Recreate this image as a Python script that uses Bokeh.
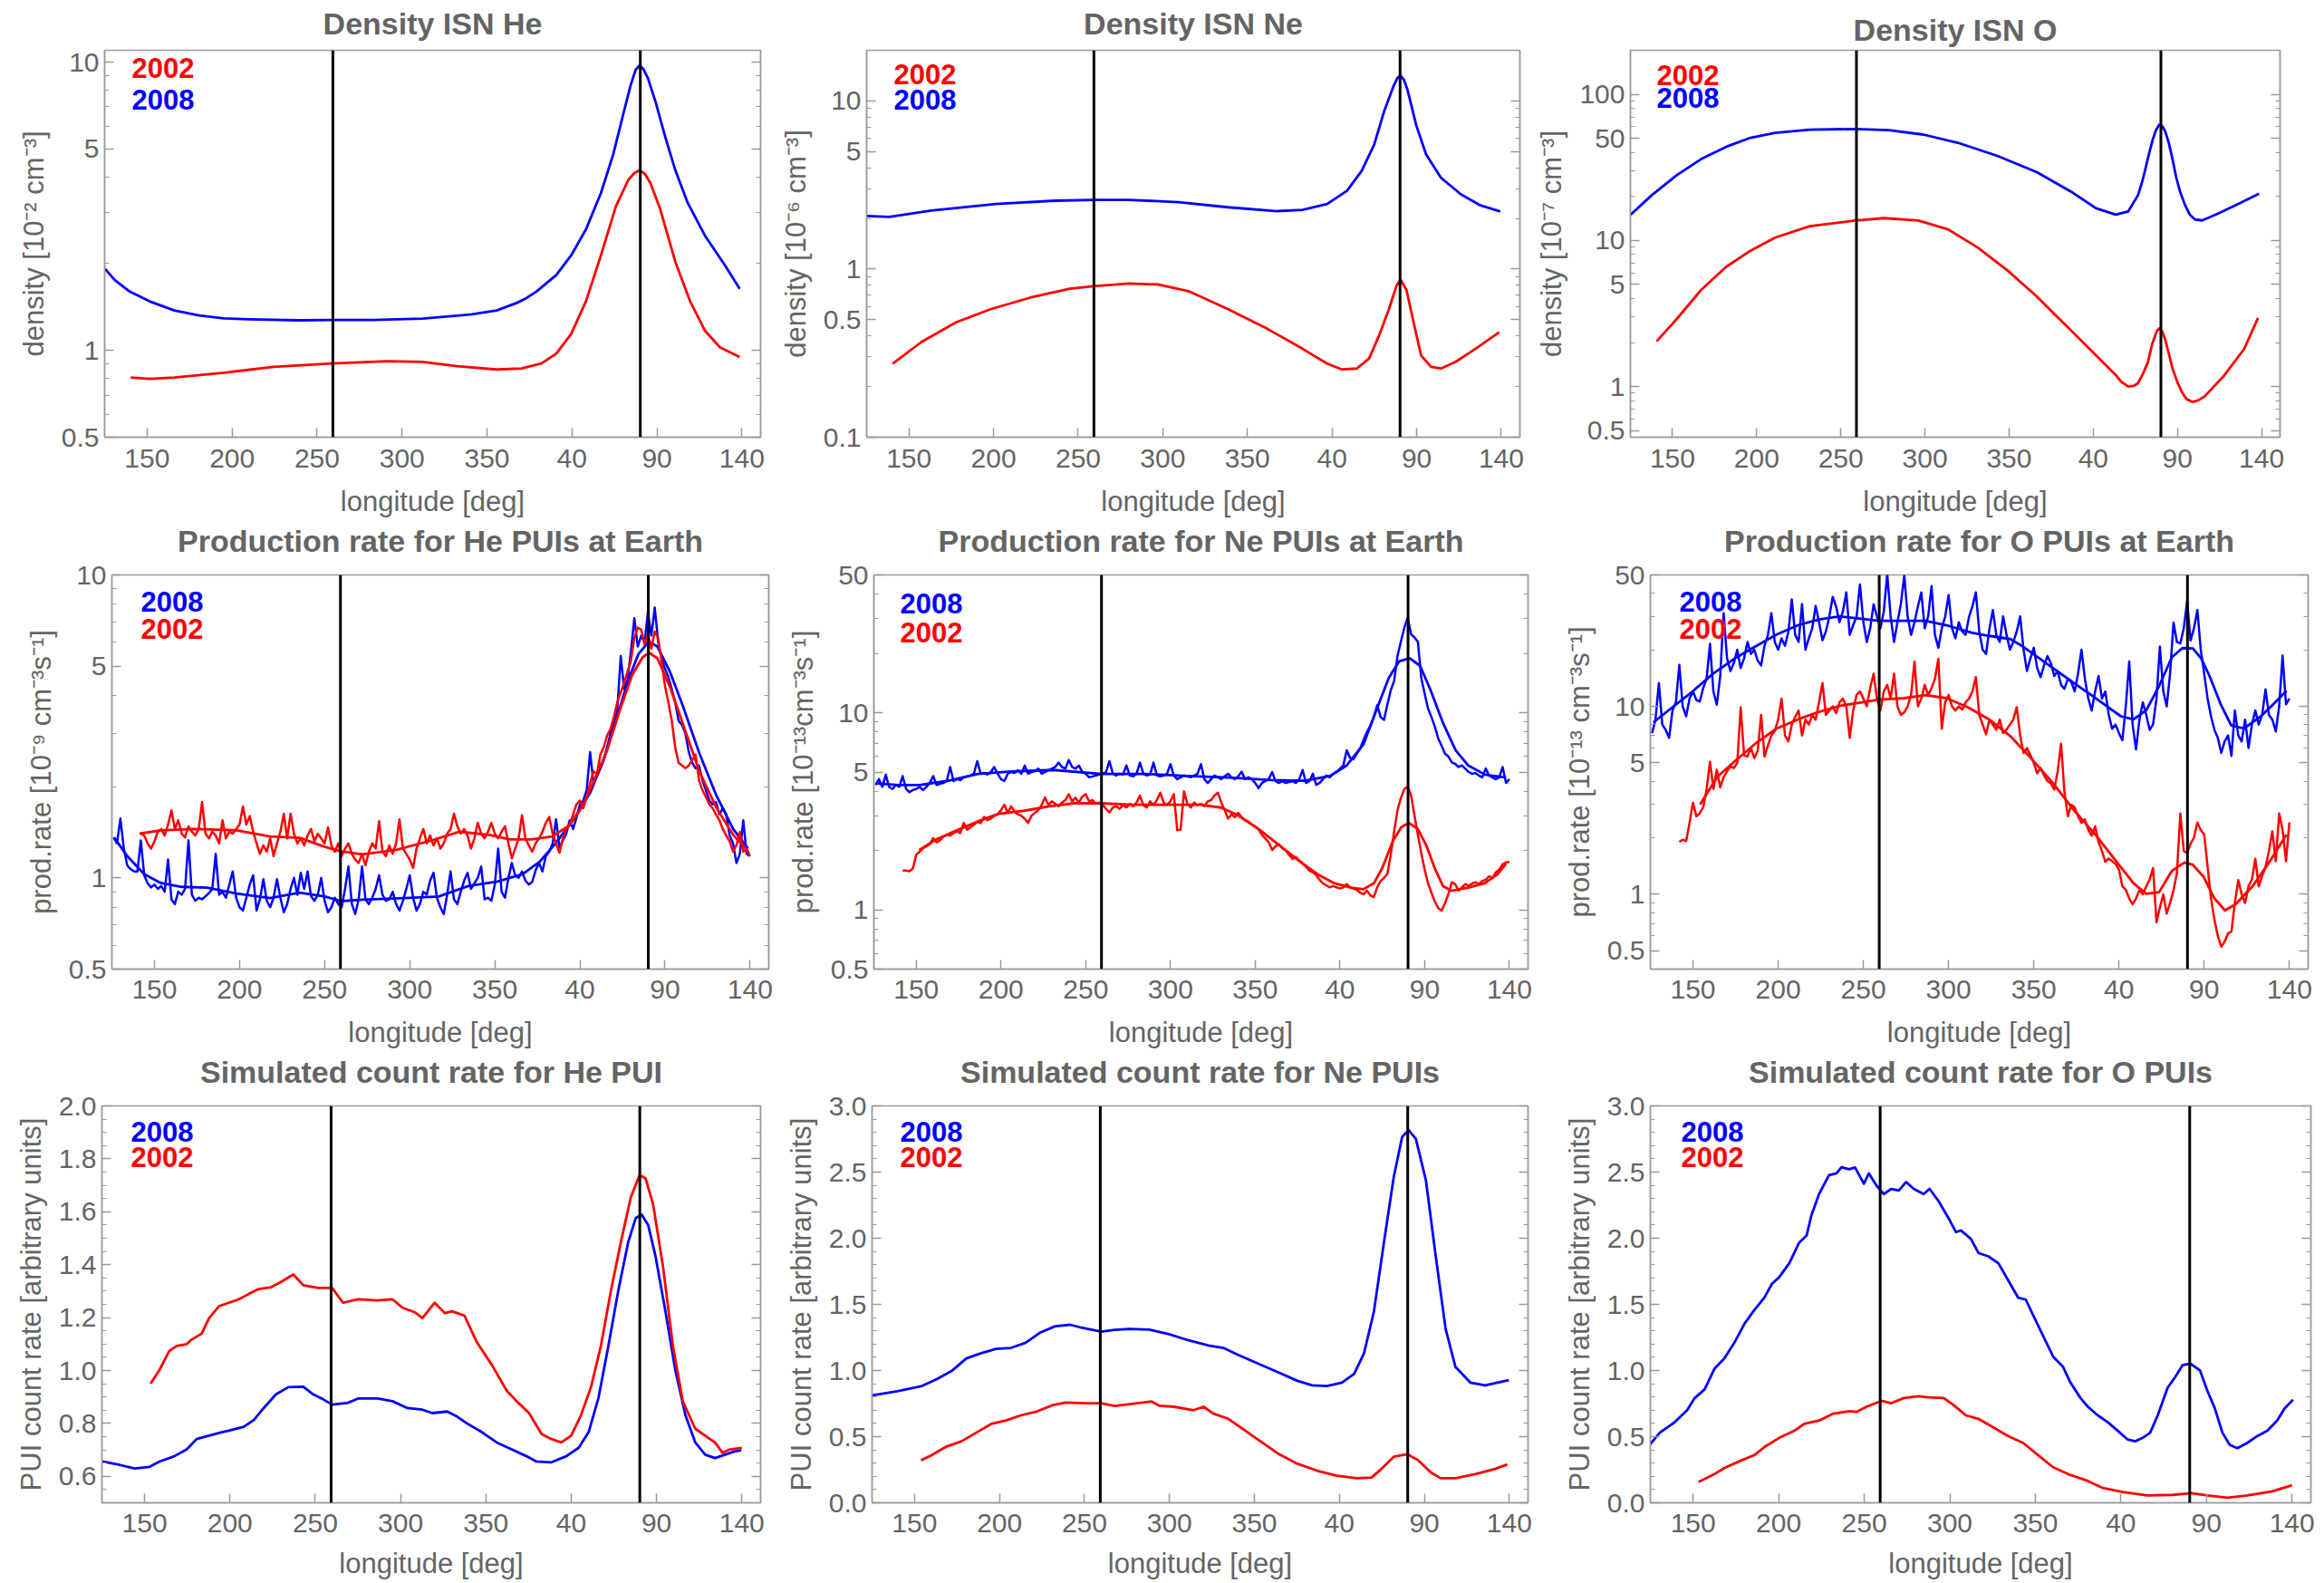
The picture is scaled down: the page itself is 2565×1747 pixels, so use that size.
import numpy as np
from bokeh.plotting import figure
from bokeh.layouts import row, column
from bokeh.models import (Range1d, FixedTicker, SingleIntervalTicker, LinearAxis, LogAxis,
                          CustomJSTickFormatter, Span, Label, Title)
from bokeh.embed import file_html
from bokeh.resources import INLINE

FONT = "Liberation Sans"
TXT = "#646464"
FRAME = "#9a9a9a"
RED = "#ff0000"
BLUE = "#0000ff"

LON_TICKS = [150, 200, 250, 300, 350, 400, 450, 500]
X_RANGE = (125, 511)
VLINES = [259.3, 440.2]
STEP = 2

# ---------------- ISN density ----------------
HE_DENS_X_08 = [125.2,131.0,139.8,151.5,166.0,180.6,195.2,209.8,239.0,258.8,282.8,312.0,341.0,355.7,367.4,373.2,379.0,390.7,399.5,408.2,417.0,424.3,430.1,434.5,437.4,439.8,442.1,444.7,449.1,455.0,460.8,468.1,478.3,490.0,498.7]
HE_DENS_08 = [1.92,1.755,1.60,1.48,1.376,1.323,1.292,1.282,1.272,1.275,1.275,1.289,1.334,1.376,1.461,1.52,1.60,1.825,2.135,2.63,3.51,4.8,6.58,8.32,9.4,9.75,9.45,8.8,7.31,5.48,4.22,3.25,2.50,1.975,1.635]
HE_DENS_X_02 = [140.4,151.5,166.0,195.2,224.4,258.8,291.5,312.0,332.4,355.7,370.3,382.0,390.7,399.5,408.2,417.0,425.8,433.1,436.6,439.8,442.9,446.2,452.0,460.8,469.5,478.3,487.0,498.7]
HE_DENS_02 = [0.805,0.797,0.805,0.837,0.877,0.901,0.917,0.912,0.882,0.859,0.866,0.901,0.974,1.14,1.48,2.135,3.16,3.9,4.12,4.22,4.1,3.8,3.08,2.03,1.48,1.17,1.026,0.949]

NE_DENS_X_08 = [125.1,138.3,163.2,201.2,236.3,259.1,280.1,309.4,338.6,367.8,382.5,397.1,408.8,417.5,424.9,430.7,436.5,438.5,440.4,442.4,444.4,447.0,449.7,455.6,464.3,476.0,487.7,499.4]
NE_DENS_08 = [2.066,2.04,2.23,2.44,2.55,2.58,2.58,2.50,2.33,2.21,2.25,2.44,2.92,3.83,5.49,8.62,12.36,13.6,14.2,13.4,11.8,9.3,7.2,4.8,3.5,2.79,2.39,2.2]
NE_DENS_X_02 = [140.4,157.3,177.8,198.2,221.6,245.0,259.1,280.1,297.7,315.2,338.6,362.0,382.5,397.1,405.8,414.6,421.9,427.8,433.6,438.0,440.4,443.9,448.2,452.6,458.5,464.3,473.1,484.8,498.8]
NE_DENS_02 = [0.274,0.368,0.482,0.577,0.676,0.763,0.791,0.820,0.809,0.739,0.577,0.44,0.336,0.274,0.253,0.256,0.294,0.402,0.577,0.791,0.866,0.756,0.482,0.307,0.262,0.256,0.281,0.336,0.421]

O_DENS_X_08 = [125.1,137.7,152.3,167.0,181.7,196.3,211.0,231.5,258.8,278.5,299.0,319.5,343.0,366.5,387.0,401.7,413.4,420.8,426.6,429.0,431.0,433.2,435.4,437.3,439.2,441.0,442.7,444.9,447.1,449.3,451.6,454.5,457.4,460.5,464.8,475.0,486.8,498.5]
O_DENS_08 = [15.0,20.4,27.8,36.0,43.6,50.4,54.4,57.3,57.9,56.8,53.0,46.6,37.9,29.3,21.5,16.6,15.0,15.8,20.4,25.0,30.9,39.5,49.1,57.0,61.9,60.5,55.9,46.5,36.0,27.0,21.5,17.5,15.0,13.9,13.7,15.4,17.9,20.9]
O_DENS_X_02 = [140.6,152.3,167.0,181.7,196.3,211.0,231.5,258.8,275.6,296.1,313.7,331.3,349.0,366.5,384.1,401.7,413.4,416.5,420.8,424.0,426.6,429.5,432.5,435.0,437.8,439.2,440.8,442.7,444.5,447.1,450.0,453.0,455.5,458.9,462.0,466.2,478.0,489.7,497.9]
O_DENS_02 = [2.04,2.88,4.58,6.57,8.5,10.45,12.5,13.66,14.2,13.66,11.9,8.95,6.24,4.13,2.60,1.63,1.198,1.08,1.0,1.01,1.053,1.22,1.47,1.95,2.4,2.50,2.4,2.11,1.75,1.33,1.07,0.902,0.82,0.785,0.80,0.857,1.198,1.81,2.95]

# ---------------- production rates (noisy, 2-deg grid) ----------------
HE_PROD_START_08 = 126
HE_PROD_08 = [1.36,1.30,1.57,1.25,1.10,1.07,1.05,1.05,1.33,1.02,0.96,0.93,0.95,
    0.92,0.94,0.90,1.15,0.85,0.82,0.90,0.88,0.92,1.33,0.88,0.84,0.86,0.85,0.87,0.89,0.92,1.20,0.88,0.90,0.86,0.95,1.05,0.86,0.80,
    0.78,0.86,0.95,1.02,0.78,0.85,0.99,0.84,0.80,0.86,0.99,0.86,0.77,0.82,0.92,1.00,0.88,1.04,0.92,1.05,0.87,0.84,0.88,1.00,0.84,0.77,0.80,0.86,0.82,0.80,
    0.92,1.09,0.82,0.76,0.85,1.09,0.85,0.82,0.86,0.92,1.02,0.88,0.84,0.85,0.90,0.82,0.78,0.84,0.92,1.02,0.86,0.78,0.82,0.90,0.88,0.98,1.04,0.86,0.80,0.76,0.88,1.05,0.85,0.82,0.90,
    0.98,1.04,0.92,0.96,1.00,1.09,0.85,0.86,0.84,0.95,1.25,0.90,0.86,1.00,1.12,1.02,1.00,1.05,0.98,0.95,0.97,1.06,1.12,1.05,1.18,
    1.22,1.30,1.56,1.26,1.33,1.40,1.55,1.45,1.58,1.75,1.80,1.95,2.60,2.05,2.20,2.35,2.45,2.70,3.00,3.30,3.60,5.40,4.20,4.50,5.60,7.20,5.80,6.30,6.00,7.55,
    6.30,7.80,6.00,5.30,4.90,4.60,4.20,3.80,3.30,3.20,3.00,2.60,2.40,2.30,2.35,2.10,1.95,1.80,1.75,1.78,1.62,1.70,1.62,1.38,1.30,1.12,1.20,1.55,1.20,1.18]
HE_PROD_START_02 = 142
HE_PROD_02 = [1.40,1.38,1.30,1.25,1.32,1.42,1.45,1.38,1.50,1.67,1.45,1.55,1.40,1.36,1.48,1.42,1.38,1.45,1.78,1.40,1.35,1.42,1.38,1.30,1.55,1.35,1.42,1.40,1.45,1.50,
    1.72,1.50,1.60,1.42,1.30,1.20,1.28,1.22,1.35,1.18,1.30,1.42,1.63,1.35,1.63,1.40,1.30,1.35,1.28,1.38,1.45,1.32,1.40,1.35,1.30,1.47,1.28,1.22,1.30,1.18,
    1.25,1.30,1.20,1.15,1.12,1.20,1.10,1.22,1.30,1.25,1.54,1.22,1.18,1.28,1.20,1.30,1.56,1.25,1.20,1.15,1.08,1.25,1.35,1.45,1.30,1.38,1.28,1.35,1.25,1.30,
    1.40,1.45,1.63,1.48,1.40,1.45,1.38,1.25,1.35,1.52,1.40,1.35,1.42,1.52,1.40,1.35,1.42,1.48,1.30,1.16,1.25,1.35,1.61,1.35,1.28,1.22,1.30,1.35,1.42,1.52,
    1.59,1.40,1.30,1.21,1.35,1.45,1.50,1.62,1.75,1.80,1.70,1.85,2.05,2.25,2.20,2.55,2.70,2.95,3.10,3.40,3.80,4.10,4.40,4.80,5.20,6.20,6.70,6.60,5.90,6.40,
    5.70,6.50,6.20,5.20,4.30,3.80,3.30,2.70,2.40,2.35,2.30,2.35,2.45,2.55,2.10,1.95,1.85,1.75,1.70,1.62,1.55,1.45,1.38,1.32,1.22,1.28,1.42,1.22,1.25,1.18]
HE_PROD_SX_08 = [126.5,133.9,143.8,153.7,166.1,180.9,198.2,218.0,235.3,250.2,259.6,272.4,297.2,317.0,334.3,351.6,366.4,376.3,386.2,396.1,406.0,413.4,420.8,428.2,434.4,440.6,445.6,453.0,460.4,470.3,480.2,490.1,498.7]
HE_PROD_S08 = [1.356,1.182,1.03,0.962,0.934,0.929,0.888,0.858,0.894,0.868,0.838,0.848,0.858,0.868,0.940,0.973,1.030,1.129,1.31,1.556,1.91,2.40,3.24,4.46,5.48,6.03,5.80,4.78,3.71,2.57,1.87,1.45,1.25]
HE_PROD_SX_02 = [141.3,153.7,173.5,198.2,218.0,235.3,250.2,259.6,272.4,292.2,312.0,329.3,346.6,359.0,371.4,383.7,393.6,401.0,408.5,415.9,423.3,430.7,436.9,440.6,445.6,453.0,460.4,470.3,480.2,490.1,497.5]
HE_PROD_S02 = [1.40,1.436,1.45,1.436,1.371,1.356,1.266,1.223,1.195,1.237,1.325,1.42,1.387,1.34,1.34,1.371,1.486,1.705,2.095,2.63,3.55,4.67,5.35,5.54,5.30,4.26,3.24,2.24,1.705,1.387,1.25]

NE_PROD_START_08 = 126
NE_PROD_08 = [4.30,4.60,4.20,4.85,4.20,4.10,4.30,4.20,4.77,4.10,3.95,4.05,4.10,
    4.20,4.05,4.20,4.40,4.77,4.30,4.35,4.40,4.50,5.30,4.50,4.60,4.55,4.70,4.75,4.80,4.90,5.68,4.90,4.95,4.85,5.00,5.30,4.90,4.60,
    4.50,4.90,5.00,4.95,5.10,4.90,5.39,4.90,5.00,5.05,5.20,4.90,5.00,5.10,5.20,5.30,5.58,5.30,5.20,5.75,5.30,5.20,5.39,5.00,4.90,4.70,4.75,4.80,4.85,4.90,
    5.00,5.68,4.90,4.80,4.90,4.85,5.40,4.80,4.75,4.90,5.58,4.90,4.80,4.85,5.58,4.80,4.75,4.80,4.90,5.49,4.80,4.60,4.70,4.80,4.75,4.70,4.80,4.90,5.49,4.60,4.40,4.60,4.80,4.70,4.60,
    4.75,4.90,4.70,4.60,4.75,5.02,4.60,4.70,4.60,4.40,4.14,4.40,4.50,4.60,5.00,4.50,4.40,4.50,4.40,4.45,4.50,4.40,4.60,5.12,4.40,
    4.50,4.90,4.30,4.40,4.60,4.80,4.70,4.90,5.00,5.20,5.40,6.44,5.90,5.80,6.20,6.60,7.30,8.00,8.60,9.50,10.9,9.50,9.20,11.0,13.0,14.5,19.5,23.0,27.0,30.3,
    25.0,24.1,22.9,15.0,12.5,10.5,9.50,8.50,7.40,6.80,6.20,6.00,5.60,5.50,5.30,5.40,5.20,5.00,4.90,4.94,4.80,4.70,5.21,4.80,4.69,4.60,4.70,5.30,4.40,4.60]
NE_PROD_START_02 = 142
NE_PROD_02 = [1.58,1.58,1.57,1.62,1.90,1.97,2.05,2.10,2.15,2.31,2.20,2.25,2.35,2.40,2.38,2.45,2.50,2.45,2.76,2.55,2.62,2.70,2.80,2.75,2.96,2.85,2.90,3.00,3.05,3.20,
    3.41,3.10,3.35,3.15,3.05,3.00,2.90,2.76,3.00,3.10,3.20,3.40,3.72,3.40,3.55,3.45,3.35,3.50,3.60,3.86,3.55,3.70,3.50,3.75,3.86,3.55,3.60,3.45,3.50,3.40,
    3.25,3.12,3.30,3.35,3.25,3.40,3.30,3.45,3.35,3.50,3.79,3.40,3.30,3.55,3.40,3.60,3.93,3.50,3.40,3.55,3.86,2.53,2.55,3.99,3.45,3.30,3.50,3.40,3.45,3.35,
    3.55,3.60,3.80,3.93,3.50,3.20,2.90,3.05,2.95,3.10,2.95,2.85,2.80,2.70,2.65,2.55,2.40,2.30,2.20,2.01,2.10,2.15,2.05,2.00,1.90,1.81,1.85,1.78,1.72,1.65,
    1.58,1.55,1.50,1.42,1.36,1.33,1.30,1.32,1.30,1.28,1.30,1.35,1.30,1.28,1.26,1.22,1.20,1.25,1.18,1.16,1.30,1.40,1.45,1.52,1.90,2.50,3.20,3.70,4.10,4.22,
    3.80,3.00,2.40,1.94,1.60,1.36,1.22,1.10,1.02,0.99,1.08,1.20,1.38,1.35,1.25,1.30,1.35,1.32,1.36,1.38,1.35,1.40,1.42,1.48,1.45,1.55,1.60,1.70,1.74,1.75]
NE_PROD_SX_08 = [127.0,139.4,151.7,169.0,186.4,206.1,230.9,259.3,285.3,310.0,334.8,359.5,379.3,394.1,404.0,413.9,421.3,428.8,434.9,441.1,447.3,453.5,460.9,468.3,475.7,485.6,498.0]
NE_PROD_S08 = [4.37,4.29,4.29,4.52,4.89,5.03,5.12,4.89,4.89,4.77,4.69,4.55,4.52,4.77,5.40,6.91,10.2,15.0,18.2,18.9,17.3,13.0,8.84,6.44,5.40,4.85,4.69]
NE_PROD_SX_02 = [151.7,161.6,174.0,186.4,198.7,213.6,228.4,243.2,259.3,277.9,297.7,317.4,329.8,339.7,352.0,364.4,376.8,386.7,396.6,406.5,413.9,420.1,425.0,431.2,436.2,440.6,446.0,451.0,455.9,460.9,465.8,475.7,485.6,493.1,498.0]
NE_PROD_S02 = [2.01,2.27,2.53,2.81,3.07,3.18,3.35,3.47,3.47,3.41,3.41,3.41,3.30,3.02,2.57,2.12,1.746,1.516,1.364,1.294,1.271,1.364,1.627,2.23,2.62,2.76,2.57,2.12,1.627,1.316,1.249,1.294,1.364,1.516,1.715]

O_PROD_START_08 = 126
O_PROD_08 = [7.2,8.5,13.3,8.0,7.5,6.8,9.5,10.5,16.6,10.0,8.85,11.0,12.0,
    10.8,10.6,12.5,14.0,21.5,12.0,10.2,14.5,31.3,18.0,15.4,17.0,20.0,16.0,18.0,22.0,19.0,20.0,17.5,16.5,21.0,24.0,31.3,22.0,20.0,
    23.0,21.0,25.0,37.0,24.0,22.0,35.0,20.0,23.0,26.0,34.2,28.0,22.5,25.0,30.0,38.2,34.0,28.0,32.0,40.4,24.0,27.0,30.0,44.5,28.0,22.0,26.0,34.9,30.0,26.0,
    32.0,50.7,30.0,22.0,28.0,35.0,49.8,30.0,24.0,28.0,34.0,40.4,26.0,30.0,43.6,24.0,20.5,26.0,30.0,39.1,26.0,23.0,28.0,25.0,24.0,30.0,34.0,40.4,25.0,20.0,19.0,26.0,32.5,24.0,22.0,
    30.1,24.0,20.0,22.0,25.0,30.1,20.0,15.4,18.0,20.5,16.0,14.3,16.5,18.5,17.0,14.5,15.4,13.0,12.4,14.0,13.5,12.0,15.0,20.0,14.0,
    11.0,9.5,12.0,14.5,11.0,12.0,9.0,7.6,8.0,7.2,6.6,10.0,17.3,8.0,5.9,8.5,10.5,9.0,7.5,8.0,11.0,20.8,12.0,10.0,15.0,27.9,22.0,21.6,26.0,36.3,
    22.4,26.0,32.5,20.0,14.9,11.0,8.85,7.5,6.8,5.65,6.5,7.0,5.45,9.5,7.0,6.5,8.5,6.0,8.0,9.5,8.0,9.0,12.3,9.0,8.5,7.35,10.0,18.6,10.25,11.0]
O_PROD_START_02 = 142
O_PROD_02 = [1.90,1.95,1.92,2.40,3.07,2.60,2.70,2.90,3.60,5.07,3.63,4.60,3.70,4.20,4.50,4.80,4.70,5.00,9.89,5.50,5.40,6.00,5.30,5.80,9.00,5.40,6.20,7.00,7.40,8.50,
    11.0,7.00,6.50,8.00,8.80,9.50,7.00,8.50,8.00,9.00,8.50,10.5,13.3,9.00,9.50,10.0,9.20,10.5,11.0,10.0,6.80,9.50,11.5,12.0,11.0,10.0,12.5,14.9,11.0,9.50,
    12.0,13.0,11.0,14.9,10.0,9.00,9.30,10.0,11.5,17.3,10.0,11.0,13.0,11.5,12.5,14.0,17.9,7.60,10.5,11.5,10.0,9.50,10.0,9.60,10.5,11.0,12.0,14.3,9.00,8.00,
    7.10,8.50,8.00,7.50,8.50,7.20,7.50,8.00,8.50,9.90,7.00,5.65,6.00,5.50,5.00,4.40,4.70,4.30,4.00,3.90,3.60,4.50,6.33,3.50,2.60,3.00,2.90,2.60,2.40,2.50,
    2.20,2.05,2.30,1.90,1.70,1.49,1.55,1.50,1.45,1.35,1.10,1.06,0.95,0.885,0.95,1.05,1.00,1.10,1.20,1.38,0.71,0.85,1.00,0.79,0.90,1.05,1.30,2.69,1.70,1.66,
    1.86,2.00,2.41,2.20,2.08,1.40,0.95,0.735,0.60,0.526,0.56,0.62,0.633,0.90,1.19,1.00,0.90,1.10,1.20,1.545,1.10,1.25,1.40,1.70,2.16,1.50,2.69,2.20,1.50,2.41]
O_PROD_SX_08 = [126.8,136.8,149.3,161.7,174.2,186.6,199.1,211.6,224.0,236.5,259.2,273.9,286.4,298.8,313.8,323.8,336.2,343.7,353.7,363.7,373.6,383.6,393.6,401.1,408.5,416.0,423.5,431.0,437.2,443.4,448.4,453.4,459.6,465.9,473.4,483.3,490.8,498.3]
O_PROD_S08 = [8.21,9.7,11.9,14.9,17.9,20.8,24.1,27.0,29.0,30.1,28.5,28.5,28.5,27.0,24.6,23.7,22.8,20.8,17.9,15.4,13.3,11.5,9.9,8.85,8.53,9.53,12.8,18.2,20.4,20.3,17.9,14.3,10.3,7.91,7.62,8.85,10.3,12.1]
O_PROD_SX_02 = [154.2,164.2,174.2,186.6,199.1,211.6,224.0,236.5,259.2,273.9,286.4,298.8,311.3,323.8,336.2,348.7,361.2,373.6,386.1,398.6,408.5,416.0,423.5,431.0,438.4,443.4,449.7,455.9,462.2,468.4,478.4,488.3,498.3]
O_PROD_S02 = [3.01,4.21,5.07,6.33,7.62,8.52,9.35,10.07,10.85,11.05,11.47,11.05,9.89,8.52,6.95,5.26,3.91,2.80,2.08,1.488,1.147,1.007,1.026,1.331,1.476,1.434,1.236,0.953,0.821,0.885,1.105,1.488,2.08]

# ---------------- simulated count rates ----------------
HE_CNT_X_08 = [125.3,135.5,144.2,152.9,158.7,167.4,174.7,180.5,187.8,195.1,199.4,208.1,214.0,219.8,227.0,234.3,243.0,248.8,254.7,259.9,269.2,275.0,286.6,295.3,304.0,312.8,318.6,327.3,333.1,338.9,347.7,356.4,365.1,373.8,379.7,388.4,397.1,404.4,410.2,416.0,421.8,427.6,433.4,437.8,441.3,445.1,449.4,455.2,461.0,466.9,472.7,478.5,484.3,490.1,496.0,499.7]
HE_CNT_08 = [0.656,0.643,0.630,0.636,0.656,0.676,0.702,0.741,0.754,0.767,0.773,0.787,0.813,0.858,0.910,0.937,0.939,0.910,0.891,0.871,0.878,0.894,0.894,0.884,0.858,0.852,0.839,0.845,0.826,0.800,0.767,0.728,0.702,0.676,0.656,0.653,0.676,0.708,0.767,0.897,1.093,1.302,1.485,1.576,1.589,1.550,1.432,1.224,1.002,0.832,0.728,0.682,0.669,0.682,0.695,0.698]
HE_CNT_X_02 = [153.5,158.7,164.5,168.9,174.7,177.6,183.4,187.8,193.6,199.4,205.2,211.0,216.9,224.1,229.9,237.2,243.0,251.7,259.9,266.3,275.0,286.6,295.3,301.2,308.4,312.8,320.0,325.9,330.2,337.5,344.8,353.5,362.2,368.0,375.3,382.6,388.4,394.2,400.0,405.8,411.6,417.4,423.3,429.1,434.9,440.1,443.6,448.0,453.8,459.6,465.4,472.7,480.0,484.3,488.7,493.0,500.0]
HE_CNT_02 = [0.950,1.002,1.074,1.093,1.100,1.117,1.139,1.198,1.243,1.256,1.269,1.289,1.308,1.315,1.335,1.363,1.322,1.312,1.312,1.256,1.269,1.265,1.269,1.237,1.220,1.198,1.256,1.217,1.224,1.207,1.106,1.021,0.924,0.884,0.839,0.760,0.741,0.728,0.754,0.832,0.937,1.093,1.302,1.485,1.654,1.739,1.726,1.628,1.393,1.093,0.884,0.780,0.747,0.728,0.689,0.702,0.708]

NE_CNT_X_08 = [125.3,139.8,154.4,163.1,171.8,180.5,189.2,198.0,206.7,215.4,224.1,232.8,241.6,247.4,259.9,267.7,276.5,288.1,299.7,311.3,323.0,331.7,340.4,352.0,363.7,375.3,384.0,392.7,401.5,408.7,414.5,420.3,426.2,432.0,436.9,440.7,445.0,450.9,456.7,462.5,468.3,477.0,485.8,493.0,499.7]
NE_CNT_08 = [0.813,0.844,0.883,0.935,0.996,1.092,1.131,1.163,1.171,1.210,1.288,1.335,1.346,1.327,1.293,1.307,1.314,1.309,1.275,1.228,1.189,1.171,1.118,1.053,0.988,0.922,0.888,0.883,0.909,0.975,1.131,1.445,1.968,2.464,2.765,2.817,2.751,2.438,1.863,1.314,1.027,0.909,0.888,0.909,0.928]
NE_CNT_X_02 = [153.8,160.2,168.9,177.6,186.3,195.1,203.8,212.5,221.2,231.4,238.7,250.3,259.9,267.7,276.5,289.5,293.9,302.6,314.2,320.1,325.9,334.6,343.3,352.0,363.7,375.3,386.9,398.5,410.2,418.9,424.7,432.0,439.8,446.5,453.8,459.6,468.3,479.9,491.6,498.8]
NE_CNT_02 = [0.321,0.361,0.426,0.465,0.530,0.596,0.622,0.661,0.687,0.739,0.758,0.753,0.753,0.732,0.745,0.766,0.734,0.726,0.700,0.726,0.674,0.635,0.557,0.478,0.374,0.295,0.243,0.204,0.186,0.191,0.256,0.348,0.368,0.321,0.230,0.186,0.186,0.217,0.256,0.290]

O_CNT_X_08 = [124.7,130.5,139.2,146.5,150.9,156.7,162.5,168.3,174.1,180.0,185.8,191.6,196.0,200.3,206.2,212.0,216.3,219.2,223.6,229.4,233.8,236.7,241.1,244.6,249.8,252.7,257.1,261.4,265.8,270.2,274.5,278.9,284.7,288.2,293.4,299.3,303.6,306.5,312.4,316.7,322.5,328.4,334.2,340.0,344.4,348.7,354.5,360.4,366.2,370.5,376.4,380.7,386.5,392.4,398.2,404.0,408.4,412.7,417.1,421.5,427.3,431.6,436.0,440.4,446.2,450.6,454.9,459.3,463.6,468.0,473.8,479.6,485.5,491.3,495.6,500.6]
O_CNT_08 = [0.439,0.530,0.609,0.700,0.792,0.857,1.014,1.092,1.210,1.354,1.458,1.550,1.654,1.706,1.811,1.968,2.020,2.177,2.334,2.477,2.490,2.537,2.522,2.535,2.412,2.490,2.399,2.334,2.373,2.360,2.425,2.373,2.334,2.373,2.281,2.151,2.046,2.059,1.994,1.889,1.863,1.811,1.680,1.550,1.536,1.419,1.262,1.105,1.027,0.909,0.792,0.726,0.661,0.609,0.544,0.478,0.465,0.491,0.530,0.661,0.870,0.949,1.040,1.053,1.001,0.844,0.713,0.530,0.439,0.413,0.452,0.504,0.544,0.622,0.713,0.779]
O_CNT_X_02 = [153.2,162.5,168.3,177.1,185.8,191.6,200.3,209.1,214.9,223.6,231.9,241.1,245.4,251.3,260.0,265.8,273.1,281.8,287.6,296.4,302.2,309.4,316.7,325.4,334.2,342.9,351.6,360.4,369.1,380.7,389.5,401.1,415.6,430.2,441.2,450.6,462.2,473.8,488.4,500.0]
O_CNT_02 = [0.157,0.217,0.264,0.314,0.361,0.421,0.491,0.544,0.596,0.622,0.674,0.692,0.687,0.726,0.771,0.753,0.792,0.805,0.797,0.792,0.739,0.661,0.635,0.570,0.504,0.452,0.361,0.269,0.217,0.165,0.112,0.081,0.055,0.060,0.073,0.055,0.039,0.055,0.086,0.133]


def grid_x(start, vals):
    return start + STEP * np.arange(len(vals))


LEGEND_SHIFT = 12  # compensates the baseline offset of screen-unit labels


def make_panel(width, height, borders, yr, log, title, title_gap, ylabel,
               major=None, minor=None, interval=None, n_minor=None,
               legend=(), legend_x=30, legend_y=(40, 70), bottom_standoffs=(13, 17)):
    bl, br, bt, bb = borders
    fh = height - bt - bb
    p = figure(width=width, height=height,
               x_range=Range1d(*X_RANGE), y_range=Range1d(*yr),
               y_axis_type="log" if log else "linear",
               output_backend="svg", toolbar_location=None,
               min_border_left=bl, min_border_right=br,
               min_border_top=bt, min_border_bottom=bb)
    p.title = None
    p.grid.visible = False
    p.outline_line_color = FRAME
    p.outline_line_width = 1.5
    p.background_fill_color = "white"
    p.border_fill_color = "white"

    # title: optional empty spacer next to the frame, then the real title above it
    if title_gap > 0:
        p.add_layout(Title(text=" ", text_font_size="1px", standoff=max(title_gap - 1.2, 0)), "above")
    p.add_layout(Title(text=title, align="center", text_font=FONT, text_font_size="34px",
                       text_font_style="bold", text_color=TXT, standoff=0), "above")

    xa = p.xaxis[0]
    xa.ticker = FixedTicker(ticks=LON_TICKS)
    xa.formatter = CustomJSTickFormatter(code="return String(tick > 360 ? tick - 360 : tick);")
    xa.axis_label = "longitude [deg]"
    xa.major_label_standoff = bottom_standoffs[0]
    xa.axis_label_standoff = bottom_standoffs[1]

    if log:
        yt = FixedTicker(ticks=major, minor_ticks=minor)
        yf = CustomJSTickFormatter(code="return String(tick);")
        right = LogAxis(ticker=yt)
    else:
        yt = SingleIntervalTicker(interval=interval, num_minor_ticks=n_minor)
        yf = CustomJSTickFormatter(code="return tick.toFixed(1);")
        right = LinearAxis(ticker=yt)
    ya = p.yaxis[0]
    ya.ticker = yt
    ya.formatter = yf
    ya.axis_label = ylabel
    ya.major_label_standoff = 6
    ya.axis_label_standoff = 10
    right.formatter = CustomJSTickFormatter(code="return '';")
    right.major_label_text_font_size = "0px"
    right.major_label_standoff = 0
    p.add_layout(right, "right")

    for ax in (xa, ya, right):
        ax.axis_line_color = FRAME
        ax.axis_line_width = 1.5
        ax.major_tick_in = 10
        ax.major_tick_out = 0
        ax.minor_tick_in = 5
        ax.minor_tick_out = 0
        ax.major_tick_line_color = FRAME
        ax.major_tick_line_width = 1.5
        ax.minor_tick_line_color = FRAME
        ax.minor_tick_line_width = 1.2
        ax.major_label_text_font = FONT
        ax.major_label_text_color = TXT
        ax.axis_label_text_font = FONT
        ax.axis_label_text_font_size = "31px"
        ax.axis_label_text_font_style = "normal"
        ax.axis_label_text_color = TXT
    xa.major_label_text_font_size = "30px"
    ya.major_label_text_font_size = "30px"
    xa.minor_tick_line_color = None

    for v in VLINES:
        p.add_layout(Span(location=v, dimension="height", line_color="black", line_width=3))

    for (txt, col), dy in zip(legend, legend_y):
        p.add_layout(Label(x=legend_x, y=fh - dy + LEGEND_SHIFT, x_units="screen", y_units="screen",
                           text=txt, text_color=col, text_font=FONT,
                           text_font_size="31px", text_font_style="bold",
                           text_baseline="alphabetic"))
    return p


def add_line(p, x, y, color, w=2.8):
    p.line(x, y, line_color=color, line_width=w, line_join="round")


LOG_MINOR = [0.2, 0.3, 0.4, 0.6, 0.7, 0.8, 0.9, 2, 3, 4, 6, 7, 8, 9, 20, 30, 40, 60, 70, 80, 90]
L0802 = [("2002", RED), ("2008", BLUE)]
L0208 = [("2008", BLUE), ("2002", RED)]

# Row 1  (height 573)
p1 = make_panel(857, 573, (115, 18, 50, 88), (0.5, 11), True, "Density ISN He", 9,
                "density [10\u207b\u00b2 cm\u207b\u00b3]", major=[0.5, 1, 5, 10], minor=LOG_MINOR,
                legend=L0802, legend_x=30, legend_y=(39, 74))
add_line(p1, HE_DENS_X_02, HE_DENS_02, RED)
add_line(p1, HE_DENS_X_08, HE_DENS_08, BLUE)

p2 = make_panel(835, 573, (96, 15, 50, 88), (0.1, 20), True, "Density ISN Ne", 9,
                "density [10\u207b\u2076 cm\u207b\u00b3]", major=[0.1, 0.5, 1, 5, 10], minor=LOG_MINOR,
                legend=L0802, legend_x=30, legend_y=(46, 74))
add_line(p2, NE_DENS_X_02, NE_DENS_02, RED)
add_line(p2, NE_DENS_X_08, NE_DENS_08, BLUE)

p3 = make_panel(871, 573, (104, 47, 55, 88), (0.45, 200), True, "Density ISN O", 2.5,
                "density [10\u207b\u2077 cm\u207b\u00b3]", major=[0.5, 1, 5, 10, 50, 100], minor=LOG_MINOR,
                legend=L0802, legend_x=29, legend_y=(42, 67))
add_line(p3, O_DENS_X_02, O_DENS_02, RED)
add_line(p3, O_DENS_X_08, O_DENS_08, BLUE)

# Row 2  (height 587)
p4 = make_panel(865, 587, (123, 17, 61, 91), (0.5, 10), True, "Production rate for He PUIs at Earth", 17,
                "prod.rate [10\u207b\u2079 cm\u207b\u00b3s\u207b\u00b9]", major=[0.5, 1, 5, 10], minor=LOG_MINOR,
                legend=L0208, legend_x=32, legend_y=(41, 71), bottom_standoffs=(12, 17))
add_line(p4, grid_x(HE_PROD_START_08, HE_PROD_08), HE_PROD_08, BLUE, 2.5)
add_line(p4, HE_PROD_SX_08, HE_PROD_S08, BLUE)
add_line(p4, grid_x(HE_PROD_START_02, HE_PROD_02), HE_PROD_02, RED, 2.5)
add_line(p4, HE_PROD_SX_02, HE_PROD_S02, RED)

p5 = make_panel(857, 587, (98, 36, 61, 91), (0.5, 50), True, "Production rate for Ne PUIs at Earth", 17,
                "prod.rate [10\u207b\u00b9\u00b3cm\u207b\u00b3s\u207b\u00b9]", major=[0.5, 1, 5, 10, 50], minor=LOG_MINOR,
                legend=L0208, legend_x=29, legend_y=(43, 75), bottom_standoffs=(12, 17))
add_line(p5, grid_x(NE_PROD_START_08, NE_PROD_08), NE_PROD_08, BLUE, 2.5)
add_line(p5, NE_PROD_SX_08, NE_PROD_S08, BLUE)
add_line(p5, grid_x(NE_PROD_START_02, NE_PROD_02), NE_PROD_02, RED, 2.5)
add_line(p5, NE_PROD_SX_02, NE_PROD_S02, RED)

p6 = make_panel(841, 587, (96, 16, 61, 91), (0.4, 50), True, "Production rate for O PUIs at Earth", 17,
                "prod.rate [10\u207b\u00b9\u00b3 cm\u207b\u00b3s\u207b\u00b9]", major=[0.5, 1, 5, 10, 50], minor=LOG_MINOR,
                legend=L0208, legend_x=32, legend_y=(41, 71), bottom_standoffs=(12, 17))
add_line(p6, grid_x(O_PROD_START_08, O_PROD_08), O_PROD_08, BLUE, 2.5)
add_line(p6, O_PROD_SX_08, O_PROD_S08, BLUE)
add_line(p6, grid_x(O_PROD_START_02, O_PROD_02), O_PROD_02, RED, 2.5)
add_line(p6, O_PROD_SX_02, O_PROD_S02, RED)

# Row 3  (height 585)
p7 = make_panel(863, 585, (112, 24, 60, 87), (0.5, 2.0), False, "Simulated count rate for He PUI", 17,
                "PUI count rate [arbitrary units]", interval=0.2, n_minor=4,
                legend=L0208, legend_x=32, legend_y=(40, 68), bottom_standoffs=(12, 14))
add_line(p7, HE_CNT_X_08, HE_CNT_08, BLUE)
add_line(p7, HE_CNT_X_02, HE_CNT_02, RED)

p8 = make_panel(859, 585, (96, 36, 60, 87), (0.0, 3.0), False, "Simulated count rate for Ne PUIs", 17,
                "PUI count rate [arbitrary units]", interval=0.5, n_minor=5,
                legend=L0208, legend_x=31, legend_y=(40, 68), bottom_standoffs=(12, 14))
add_line(p8, NE_CNT_X_08, NE_CNT_08, BLUE)
add_line(p8, NE_CNT_X_02, NE_CNT_02, RED)

p9 = make_panel(841, 585, (98, 13, 60, 87), (0.0, 3.0), False, "Simulated count rate for O PUIs", 17,
                "PUI count rate [arbitrary units]", interval=0.5, n_minor=5,
                legend=L0208, legend_x=34, legend_y=(40, 68), bottom_standoffs=(12, 14))
add_line(p9, O_CNT_X_08, O_CNT_08, BLUE)
add_line(p9, O_CNT_X_02, O_CNT_02, RED)

layout = column(row(p1, p2, p3), row(p4, p5, p6), row(p7, p8, p9))

with open("out.html", "w") as f:
    f.write(file_html(layout, INLINE, title="ISN density, PUI production and count rates"))
